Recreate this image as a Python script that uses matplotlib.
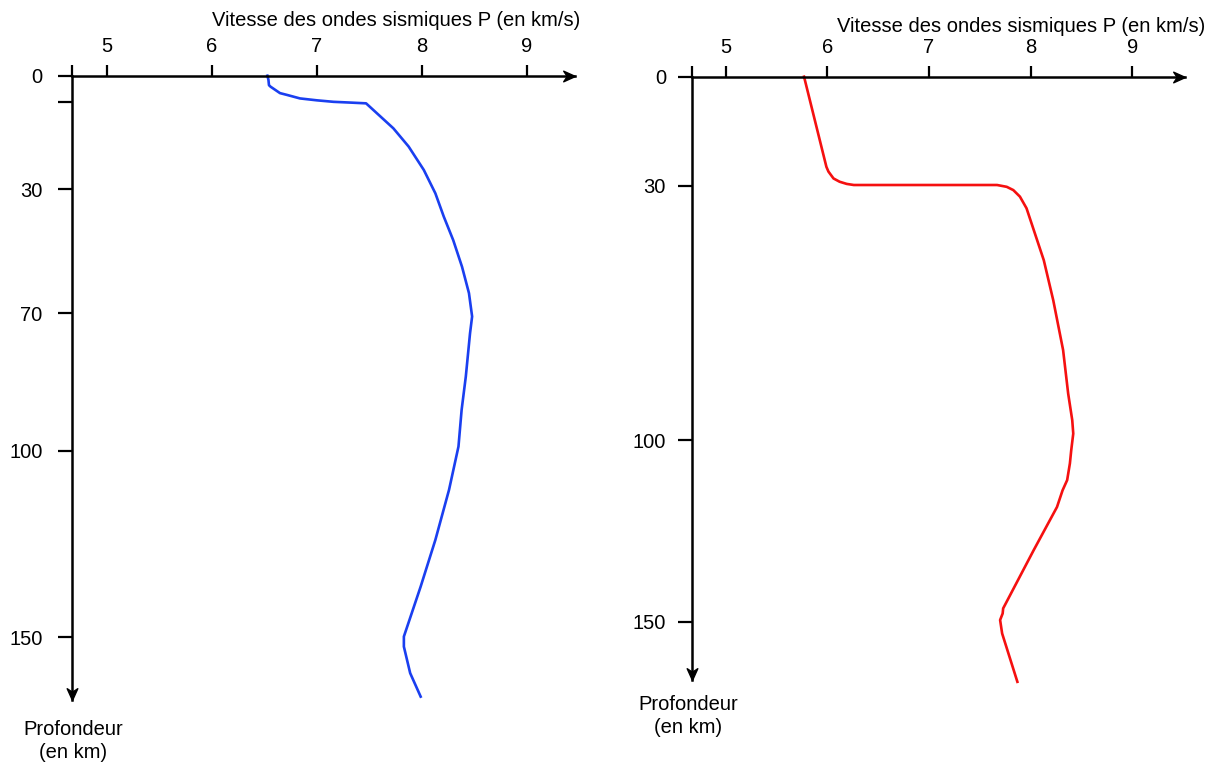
import numpy as np
import matplotlib.pyplot as plt
from matplotlib.path import Path

plt.rcParams['font.family'] = ['Liberation Sans', 'DejaVu Sans']

# Left profile (blue): velocity in km/s, depth in km
vLeft = [6.53, 6.54, 6.545, 6.56, 6.65, 6.72, 6.84, 7.00, 7.16, 7.32, 7.47, 7.73, 7.875,
         8.02, 8.13, 8.21, 8.30, 8.384, 8.45, 8.48, 8.46, 8.42, 8.38, 8.35, 8.26, 8.13,
         7.99, 7.83, 7.83, 7.89, 7.99]
dLeft = [0, 1.1, 2.5, 2.9, 4.6, 5.1, 6.0, 6.5, 6.9, 7.1, 7.3, 13.9, 18.7,
         24.9, 31.3, 38.8, 46.4, 55.0, 63.5, 70.7, 74.4, 83.8, 91.1, 99.1, 110.5, 123.9,
         136.4, 149.8, 152.5, 159.6, 165.9]

# Right profile (red)
vRight = [5.77, 5.99, 6.01, 6.06, 6.12, 6.19, 6.26, 7.67, 7.765, 7.83, 7.895, 7.96,
          8.13, 8.223, 8.32, 8.37, 8.41, 8.42, 8.40, 8.387, 8.36, 8.315, 8.26, 8.03, 7.73,
          7.725, 7.70, 7.72, 7.87]
dRight = [0, 24.8, 26.1, 28.0, 28.9, 29.5, 29.8, 29.8, 30.3, 31.2, 33.0, 36.2,
          50.5, 61.5, 75.2, 87.2, 94.5, 98.2, 102.8, 106.4, 111.0, 113.8, 118.4, 130.3, 146.3,
          147.7, 149.5, 153.2, 166.5]

xTicks = [5, 6, 7, 8, 9]
leftDepthTicks = [0, 7, 30, 70, 100, 150]
leftDepthLabels = ['0', '', '30', '70', '100', '150']
rightDepthTicks = [0, 30, 100, 150]

# the left depth axis is not drawn to a regular scale
leftAxisDepth = [-50, 0, 30, 70, 100, 150, 250]
leftAxisPos = [-189.4, 0, 113.6, 237.6, 375.0, 561.6, 934.8]

def fwd(d):
    return np.interp(d, leftAxisDepth, leftAxisPos)

def inv(p):
    return np.interp(p, leftAxisPos, leftAxisDepth)

arrowRight = Path([(0, 0), (-1, 0.45), (-0.7, 0), (-1, -0.45), (0, 0)],
                  [Path.MOVETO, Path.LINETO, Path.LINETO, Path.LINETO, Path.CLOSEPOLY])
arrowDown = Path([(0, 0), (0.45, 1), (0, 0.7), (-0.45, 1), (0, 0)],
                 [Path.MOVETO, Path.LINETO, Path.LINETO, Path.LINETO, Path.CLOSEPOLY])

W, H = 1209, 762
fs = 14.5
fig = plt.figure(figsize=(W / 100, H / 100), dpi=100)

def setup(ax, xlim, dmax, dticks, dlabels, ypad):
    ax.set_xlim(xlim)
    ax.set_ylim(dmax, 0)
    for s in ['right', 'bottom']:
        ax.spines[s].set_visible(False)
    for s in ['top', 'left']:
        ax.spines[s].set_linewidth(1.8)
    ax.xaxis.tick_top()
    ax.set_xticks([xlim[0]] + xTicks)
    ax.set_xticklabels([''] + [str(t) for t in xTicks])
    ax.set_yticks(dticks)
    ax.set_yticklabels(dlabels)
    ax.tick_params(axis='x', direction='out', length=8, width=1.6, pad=6, labelsize=fs)
    ax.tick_params(axis='y', direction='out', length=10, width=1.6, pad=ypad, labelsize=fs)
    ax.plot(1, 1, marker=arrowRight, markersize=17, color='black',
            transform=ax.transAxes, clip_on=False)
    ax.plot(0, 0, marker=arrowDown, markersize=17, color='black',
            transform=ax.transAxes, clip_on=False)

# left panel
ax1 = fig.add_axes([71.7 / W, 62 / H, (575 - 71.7) / W, (700 - 75.7) / H])
ax1.set_yscale('function', functions=(fwd, inv))
setup(ax1, (4.666, 9.46), 166.8, leftDepthTicks, leftDepthLabels, 11)
ax1.plot(vLeft, dLeft, color='#1a3ff0', lw=1.9, clip_on=False)

# right panel
ax2 = fig.add_axes([692.3 / W, 82 / H, (1185 - 692.3) / W, (680 - 76.7) / H])
setup(ax2, (4.67, 9.52), 166.0, rightDepthTicks, [str(t) for t in rightDepthTicks], 9)
ax2.plot(vRight, dRight, color='#f51010', lw=1.9, clip_on=False)

xlab = 'Vitesse des ondes sismiques P (en km/s)'
fig.text(580 / W, 1 - 21 / H, xlab, ha='right', va='center', fontsize=fs)
fig.text(1205 / W, 1 - 26 / H, xlab, ha='right', va='center', fontsize=fs)
fig.text(73 / W, 1 - 741 / H, 'Profondeur\n(en km)', ha='center', va='center',
         fontsize=fs, linespacing=1.25)
fig.text(688 / W, 1 - 716 / H, 'Profondeur\n(en km)', ha='center', va='center',
         fontsize=fs, linespacing=1.25)

fig.savefig('out.png', dpi=100)
